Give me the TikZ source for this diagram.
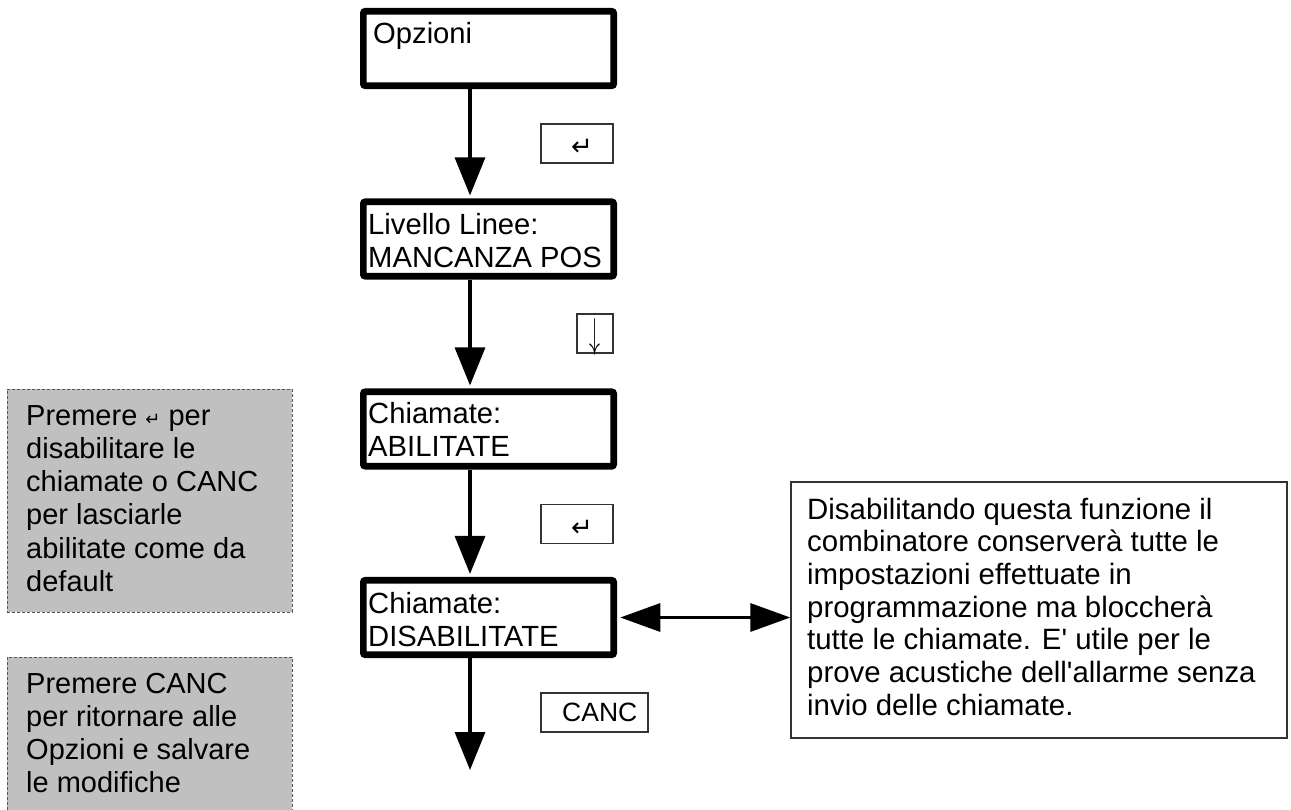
\documentclass[tikz,border=0pt]{standalone}
\usepackage{graphicx}
\usepackage{fontspec}
\setmainfont{Liberation Sans}[Ligatures=TeXOff]
\newfontfamily\dvs{DejaVu Sans}
\usetikzlibrary{arrows.meta}
\definecolor{greyfill}{HTML}{C0C0C0}
\definecolor{greyline}{HTML}{555555}
\definecolor{keyline}{HTML}{333333}
\newcommand\mltext[2]{\vtop{\baselineskip=#1pt\lineskiplimit=-100pt #2}}
\begin{document}
\begin{tikzpicture}[x=1pt,y=-1pt,
  mbox/.style={draw=black,line width=6.6pt,rounded corners=2pt,fill=white,
    minimum width=250.4pt,minimum height=74.5pt,inner sep=0pt},
  kbox/.style={draw=keyline,line width=1.2pt,fill=white,minimum height=39pt,inner sep=0pt},
  gbox/.style={draw=greyline,line width=1pt,dash pattern=on 3pt off 2pt,fill=greyfill,
    minimum width=285pt,inner sep=0pt},
  nbox/.style={draw=keyline,line width=1.4pt,fill=white,minimum width=496pt,minimum height=256pt,inner sep=0pt},
  mtext/.style={anchor=base west,inner sep=0pt,font=\fontsize{29.2}{33}\selectfont},
  gtext/.style={anchor=base west,inner sep=0pt,font=\fontsize{29}{33.3}\selectfont},
  ntext/.style={anchor=base west,inner sep=0pt,font=\fontsize{29.4}{32.7}\selectfont},
  conn/.style={line width=3.3pt,-{Triangle[length=38pt,width=30pt]}},
  dconn/.style={line width=3.3pt,{Triangle[length=40pt,width=28pt]}-{Triangle[length=40pt,width=28pt]}},
  enter/.style={inner sep=0pt,font=\dvs\fontsize{26}{26}\selectfont}
]
\useasboundingbox (0,0) rectangle (1291,809);

% main boxes
\node[mbox] (o) at (488.5,48.5) {};
\node[mbox] (l) at (488.5,239) {};
\node[mbox] (a) at (488.5,429) {};
\node[mbox] (d) at (488.5,617.5) {};

\node[mtext] (ot) at (373,43) {Opzioni};
\node[mtext] (lt) at (368,234) {\mltext{33}{\hbox{Livello Linee:}\hbox{MANCANZA POS}}};
\node[mtext] (at) at (368,423) {\mltext{33}{\hbox{Chiamate:}\hbox{ABILITATE}}};
\node[mtext] (dt) at (368,613) {\mltext{33}{\hbox{Chiamate:}\hbox{DISABILITATE}}};

% connectors
\coordinate (ax) at (470,0);
\coordinate (endp) at (470,770);
\draw[conn,shorten >=3pt] (o.south -| ax) -- (l.north -| ax);
\draw[conn,shorten >=3pt] (l.south -| ax) -- (a.north -| ax);
\draw[conn,shorten >=3pt] (a.south -| ax) -- (d.north -| ax);
\draw[conn] (d.south -| ax) -- (endp);

% key boxes
\node[kbox,minimum width=72pt] (k1) at (577,143.5) {};
\node[enter] (k1t) at (582,147.5) {↵};
\node[kbox,minimum width=36pt] (k2) at (595,333.5) {};
\node[inner sep=0pt] (k2t) at (594.5,337.5) {\resizebox{11pt}{29pt}{$\downarrow$}};
\node[kbox,minimum width=72pt] (k3) at (577,524) {};
\node[enter] (k3t) at (582,528) {↵};
\node[kbox,minimum width=107pt] (k4) at (594.5,712.5) {};
\node[anchor=base west,inner sep=0pt,font=\fontsize{26.5}{26.5}\selectfont] (k4t) at (562,721) {CANC};

% note box and double arrow
\node[nbox] (n) at (1039,610) {};
\node[ntext] (nt) at (807,519) {\mltext{32.7}{%
\hbox{Disabilitando questa funzione il}
\hbox{combinatore conserverà tutte le}
\hbox{impostazioni effettuate in}
\hbox{programmazione ma bloccherà}
\hbox{tutte le chiamate. E' utile per le}
\hbox{prove acustiche dell'allarme senza}
\hbox{invio delle chiamate.}}};
\draw[dconn] ([xshift=3.3pt]d.east) -- (n.west |- d.east);

% grey boxes
\node[gbox,minimum height=223pt] (g1) at (149.5,500.5) {};
\node[gtext] (g1t) at (26,425) {\mltext{33.3}{%
\hbox{Premere {\dvs\fontsize{18}{18}\selectfont ↵} per}
\hbox{disabilitare le}
\hbox{chiamate o CANC}
\hbox{per lasciarle}
\hbox{abilitate come da}
\hbox{default}}};
\node[gbox,minimum height=170pt] (g2) at (149.5,742) {};
\node[gtext] (g2t) at (26,693) {\mltext{33.3}{%
\hbox{Premere CANC}
\hbox{per ritornare alle}
\hbox{Opzioni e salvare}
\hbox{le modifiche}}};
\end{tikzpicture}
\end{document}
